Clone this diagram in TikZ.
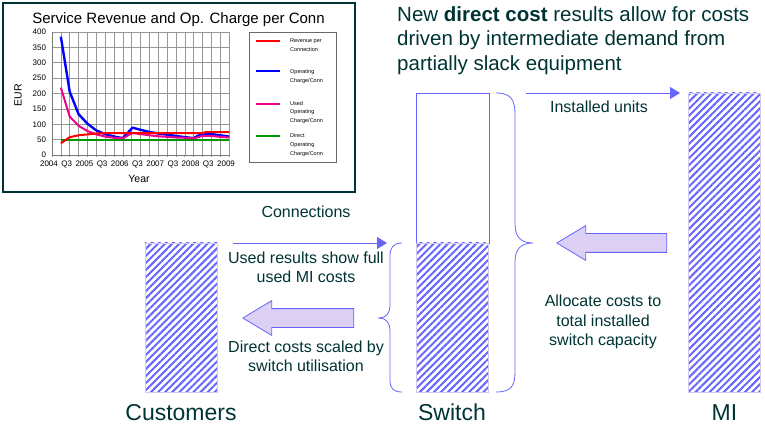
\documentclass[tikz,border=0pt]{standalone}
\usepackage{fontspec}
\setmainfont{Liberation Sans}
\usetikzlibrary{arrows.meta,patterns.meta,shapes.arrows}

\definecolor{ink}{RGB}{0,51,51}
\definecolor{lilac}{RGB}{102,102,255}
\definecolor{lavender}{RGB}{220,208,245}
\definecolor{hatchedge}{RGB}{210,200,242}
\definecolor{gridgray}{RGB}{150,150,150}
\definecolor{chartgreen}{RGB}{0,150,0}

\tikzset{hatchbox/.style={draw=hatchedge, line width=0.8pt, pattern={Lines[angle=45,distance=5pt,line width=2pt]}, pattern color=lilac, minimum width=72pt, inner sep=0pt}}
\tikzset{plainbox/.style={draw=lilac, fill=white, line width=0.8pt, minimum width=73pt, inner sep=0pt}}
\tikzset{fatarrow/.style={single arrow, draw=lilac, fill=lavender, line width=0.8pt, minimum width=34pt, single arrow head extend=8pt, single arrow tip angle=62, inner xsep=0pt, inner ysep=9pt, shape border rotate=180, anchor=tip}}
\tikzset{thinarrow/.style={draw=lilac, line width=0.8pt, -{Triangle[length=10pt,width=12pt]}}}
\tikzset{lbl/.style={text=ink, font=\fontsize{16}{19.5}\selectfont, align=center, inner sep=0pt}}
\tikzset{bigname/.style={text=ink, font=\fontsize{23}{27}\selectfont, inner sep=0pt, anchor=base}}
\tikzset{ticklbl/.style={font=\fontsize{8}{9}\selectfont, inner sep=0pt}}
\tikzset{legtxt/.style={font=\fontsize{5.5}{8.7}\selectfont, align=left, anchor=north west, inner sep=0pt}}

\begin{document}
\begin{tikzpicture}[x=1pt,y=-1pt,brace/.style={draw=lilac, line width=0.8pt}]
    \useasboundingbox (0,0) rectangle (765,430);

    % chart
    \draw[ink, line width=1.2pt] (3,3) rectangle (355,192);
    \node[font=\fontsize{15}{18}\selectfont, anchor=base, inner sep=0pt] (charttitle) at (178.5,23.3) {Service Revenue and Op. Charge per Conn};
    \node[rotate=90, font=\fontsize{10.5}{12}\selectfont, inner sep=0pt] (eur) at (18,95) {EUR};
    \node[font=\fontsize{10.5}{12}\selectfont, inner sep=0pt] (year) at (139,179) {Year};
    \begin{scope}[shift={(52,155)}, x=8.85pt, y=0.3075pt]
        \foreach \v in {50,100,...,400} \draw[gridgray, line width=0.5pt] (0,\v) -- (20,\v);
        \foreach \q in {1,...,20} \draw[gridgray, line width=0.5pt] (\q,0) -- (\q,400);
        \foreach \q in {0,...,20} \draw[gridgray, line width=0.6pt] (\q,0) -- ++(0,-2pt);
        \draw[gridgray!80!black, line width=0.7pt] (0,400) -- (0,0) -- (20,0);
        \foreach \v in {0,50,...,400} \node[ticklbl, anchor=east] (yl\v) at (-0.65,\v) {\v};
        \foreach \q/\t in {0/2004,2/Q3,4/2005,6/Q3,8/2006,10/Q3,12/2007,14/Q3,16/2008,18/Q3,20/2009}
            \node[ticklbl, anchor=north, xshift=-3pt, yshift=-6pt] (xl\q) at (\q,0) {\t};

        \draw[chartgreen, line width=2pt] (1,50) -- (20,50);
        \draw[blue, line width=2.4pt, line join=round] plot coordinates {(1,385) (2,206) (3,133) (4,102) (5,80) (6,68) (7,60) (8,55) (9.1,89) (10,82) (11,75) (12,70) (13,66) (14,62) (15,58) (16,55) (17,70) (18,68) (19,64) (20,60)};
        \draw[magenta, line width=2pt, line join=round] plot coordinates {(1,219) (2,125) (3,95) (4,78) (5,67) (6,60) (7,56) (8,54) (9.1,72) (10,68) (11,64) (12,61) (13,59) (14,57) (15,56) (16,54) (17,62) (18,62) (19,59) (20,57)};
        \draw[red, line width=2pt, line join=round] plot coordinates {(1,38) (2,58) (3,64) (4,67) (5,70) (6,71) (17,71) (17.3,74) (20,74)};
    \end{scope}

    % legend
    \draw[gridgray!70!black, line width=0.6pt] (249,32) rectangle (336,162);
    \draw[red, line width=1.6pt] (256,41) -- (280,41);
    \node[legtxt] (legrev) at (290,38.5) {Revenue per\\Connection};
    \draw[blue, line width=1.6pt] (256,71) -- (280,71);
    \node[legtxt] (legop) at (290,69.5) {Operating\\Charge/Conn};
    \draw[magenta, line width=1.6pt] (256,104) -- (280,104);
    \node[legtxt] (legused) at (290,101) {Used\\Operating\\Charge/Conn};
    \draw[chartgreen, line width=1.6pt] (256,136) -- (280,136);
    \node[legtxt] (legdir) at (290,133.5) {Direct\\Operating\\Charge/Conn};

    % headline
    \node[text=ink, font=\fontsize{20.5}{24.5}\selectfont, align=left, anchor=north west, inner sep=0pt] (headline) at (397,6.1) {New \textbf{direct cost} results allow for costs\\driven by intermediate demand from\\partially slack equipment};

    % boxes
    \node[plainbox, minimum height=150pt] (swtop) at (452.5,168) {};
    \node[hatchbox, minimum height=149pt] (swused) at (452.5,317.5) {};
    \node[hatchbox, minimum height=149pt] (cust) at (181,317.5) {};
    \node[hatchbox, minimum height=299pt] (mi) at (724,242.5) {};

    \node[bigname] (custname) at (181,420) {Customers};
    \node[bigname] (swname) at (452,420) {Switch};
    \node[bigname] (miname) at (724.5,420) {MI};

    % braces
    \draw[brace] (496,93) .. controls (511,93) and (515,100) .. (515,114) -- (515,224)
        .. controls (515,237) and (521,243) .. (533,243) .. controls (521,243) and (515,249) .. (515,262)
        -- (515,372) .. controls (515,386) and (511,392) .. (496,392);
    \draw[brace] (402,243) .. controls (393,243) and (390,248) .. (390,256) -- (390,306)
        .. controls (390,313) and (386,318) .. (379,318) .. controls (386,318) and (390,323) .. (390,330)
        -- (390,380) .. controls (390,388) and (393,392) .. (402,392);

    % arrows
    \coordinate (inst0) at (526,93);
    \coordinate (inst1) at (680,93);
    \draw[thinarrow] (inst0) -- (inst1);
    \coordinate (conn0) at (233,243);
    \coordinate (conn1) at (387,243);
    \draw[thinarrow] (conn0) -- (conn1);
    \node[fatarrow, minimum height=110pt] (alloc) at (556,243) {};
    \node[fatarrow, minimum height=111pt] (scale) at (242,318) {};

    % labels
    \node[lbl, anchor=base] (instlbl) at (599,112.7) {Installed units};
    \node[lbl, anchor=base] (connlbl) at (306,217.7) {Connections};
    \node[lbl, anchor=north] (usedlbl) at (306,251.7) {Used results show full\\used MI costs};
    \node[lbl, anchor=north] (directlbl) at (306,340.7) {Direct costs scaled by\\switch utilisation};
    \node[lbl, anchor=north] (alloclbl) at (603,295) {Allocate costs to\\total installed\\switch capacity};
\end{tikzpicture}
\end{document}
